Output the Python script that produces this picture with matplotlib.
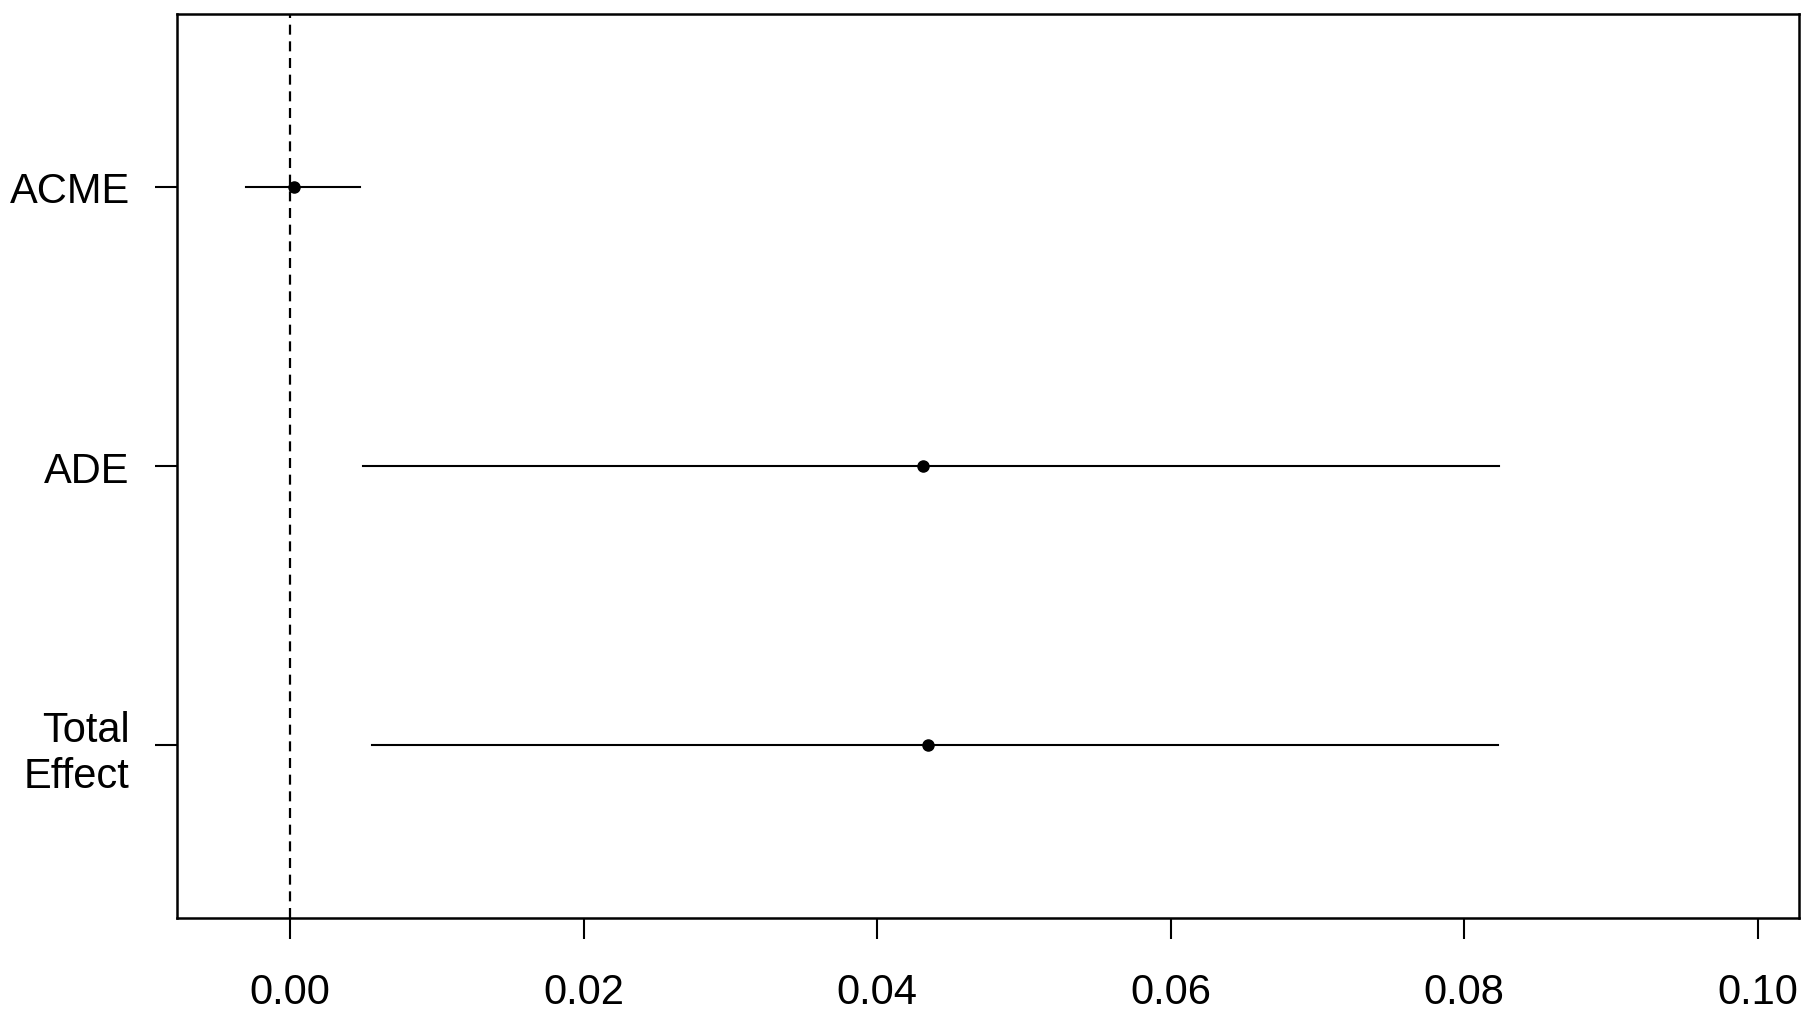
import matplotlib
matplotlib.use("Agg")
import matplotlib.pyplot as plt

plt.rcParams['font.family'] = ['Liberation Sans', 'DejaVu Sans']

# mediation estimates with confidence intervals
labels = ['ACME', 'ADE', 'Total\nEffect']
estimate = [0.0003, 0.0431, 0.0435]
ci_low = [-0.0030, 0.0050, 0.0056]
ci_high = [0.0048, 0.0824, 0.0823]
ypos = [3, 2, 1]
xticks = [0.00, 0.02, 0.04, 0.06, 0.08, 0.10]
xticklabels = ['0.00', '0.02', '0.04', '0.06', '0.08', '0.10']

fig = plt.figure(figsize=(18.14, 10.2), dpi=100)
ax = fig.add_axes([0.0976, 0.099, 0.894, 0.8863])

for y, lo, hi in zip(ypos, ci_low, ci_high):
    ax.plot([lo, hi], [y, y], color='black', lw=1.5)
ax.plot(estimate, ypos, 'o', color='black', markersize=8)
ax.axvline(0, color='black', lw=1.6, linestyle=(0, (4.5, 3)))

ax.set_xlim(-0.0077, 0.1028)
ax.set_ylim(0.38, 3.62)
ax.set_xticks(xticks)
ax.set_xticklabels(xticklabels)
ax.set_yticks(ypos)
ax.set_yticklabels(labels, ha='right', multialignment='right')
for t in ax.get_yticklabels():
    t.set_y(-0.008)

ax.tick_params(axis='x', labelsize=30, length=15, width=1.5, pad=24)
ax.tick_params(axis='y', labelsize=30, length=16, width=1.5, pad=18)
for s in ax.spines.values():
    s.set_linewidth(1.8)

fig.savefig('out.png', dpi=100)
plt.close(fig)
